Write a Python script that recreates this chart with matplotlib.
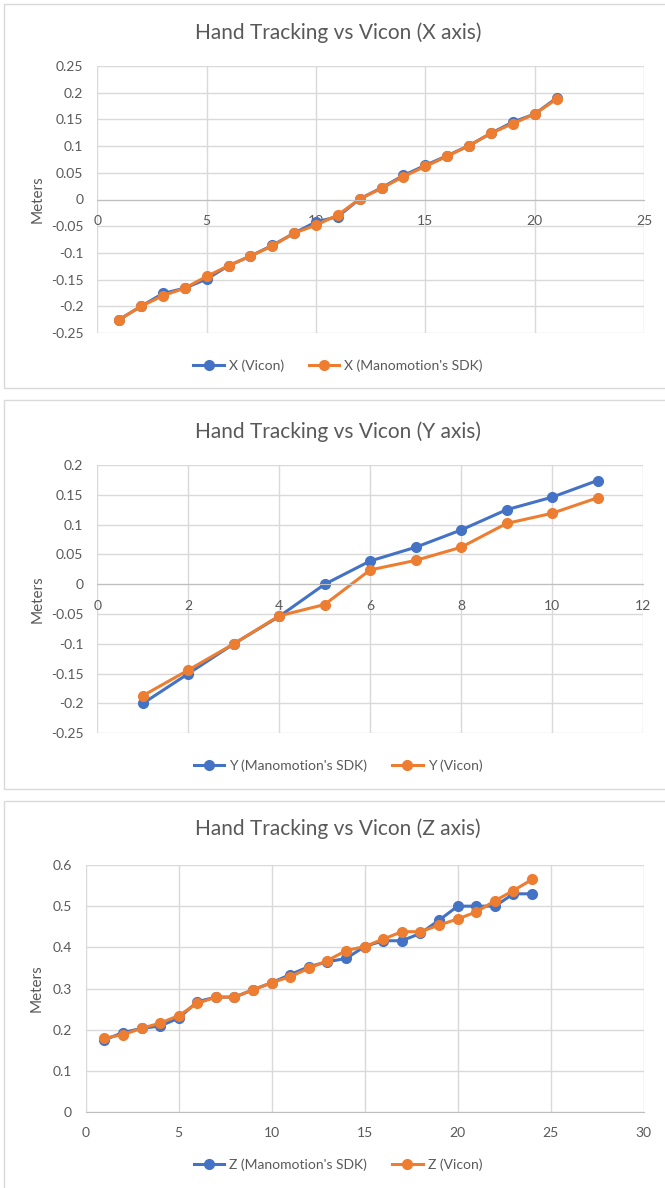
import matplotlib
matplotlib.use('Agg')
import matplotlib.pyplot as plt
from matplotlib.patches import Rectangle

plt.rcParams['font.family'] = ['Lato', 'DejaVu Sans']

# frame numbers and positions (meters)
frames_x = list(range(1, 22))
x_vicon = [-0.225, -0.200, -0.176, -0.166, -0.149, -0.124, -0.106, -0.086, -0.063, -0.042, -0.032,
           0.001, 0.022, 0.045, 0.064, 0.082, 0.101, 0.124, 0.145, 0.160, 0.190]
x_sdk = [-0.225, -0.200, -0.180, -0.166, -0.144, -0.124, -0.106, -0.087, -0.063, -0.048, -0.029,
         0.001, 0.021, 0.043, 0.062, 0.081, 0.101, 0.124, 0.142, 0.160, 0.188]

frames_y = list(range(1, 12))
y_sdk = [-0.200, -0.150, -0.100, -0.054, 0.000, 0.039, 0.062, 0.091, 0.125, 0.146, 0.174]
y_vicon = [-0.187, -0.144, -0.100, -0.053, -0.034, 0.024, 0.040, 0.062, 0.102, 0.119, 0.145]

frames_z = list(range(1, 25))
z_sdk = [0.175, 0.193, 0.203, 0.209, 0.228, 0.268, 0.279, 0.279, 0.297, 0.314, 0.334, 0.353,
         0.365, 0.373, 0.402, 0.416, 0.416, 0.434, 0.466, 0.500, 0.500, 0.500, 0.530, 0.530]
z_vicon = [0.179, 0.188, 0.203, 0.216, 0.234, 0.264, 0.279, 0.279, 0.297, 0.314, 0.329, 0.349,
           0.368, 0.392, 0.402, 0.420, 0.438, 0.438, 0.454, 0.469, 0.486, 0.513, 0.538, 0.565]

BLUE = '#4472C4'
ORANGE = '#ED7D31'
GRID = '#D9D9D9'
TEXT = '#595959'

W, H = 665, 1188
fig = plt.figure(figsize=(W / 100, H / 100), dpi=100)


def px_box(left, top, right, bottom):
    return [left / W, 1 - bottom / H, (right - left) / W, (bottom - top) / H]


def panel(top, bottom, title_y, title):
    fig.patches.append(Rectangle((4 / W, 1 - bottom / H), 668 / W, (bottom - top) / H,
                                 transform=fig.transFigure, facecolor='white',
                                 edgecolor=GRID, linewidth=1, zorder=-5))
    fig.text(338 / W, 1 - title_y / H, title, ha='center', va='center',
             fontsize=15, color=TEXT)


def style_axes(ax, xlim, xticks, ylim, yticks, yfmt, zero_axis):
    ax.set_xlim(xlim)
    ax.set_ylim(ylim)
    ax.set_xticks(xticks)
    ax.set_yticks(yticks)
    ax.set_xticklabels([str(t) for t in xticks])
    ax.set_yticklabels([yfmt(t) for t in yticks])
    ax.grid(True, color=GRID, linewidth=1)
    ax.set_axisbelow(True)
    ax.set_facecolor('none')
    for s in ['top', 'right', 'left']:
        ax.spines[s].set_visible(False)
    ax.spines['bottom'].set_color('#BFBFBF')
    if zero_axis:
        ax.spines['bottom'].set_position(('data', 0))
    ax.tick_params(axis='both', length=0, colors=TEXT, labelsize=10)
    ax.tick_params(axis='y', pad=10)
    ax.tick_params(axis='x', pad=11)


def fmt(v):
    s = ('%.2f' % v).rstrip('0').rstrip('.')
    return '0' if s in ('-0', '0') else s


def legend(y, handles, labels):
    fig.legend(handles, labels, loc='center', bbox_to_anchor=(338 / W, 1 - y / H),
               ncol=2, frameon=False, fontsize=10, labelcolor=TEXT, handlelength=2.2,
               columnspacing=1.8, handletextpad=0.35)


line_kw = dict(linewidth=2.2, marker='o', markersize=7)

# X axis chart
panel(4, 388, 33, 'Hand Tracking vs Vicon (X axis)')
ax1 = fig.add_axes(px_box(97.3, 66, 644, 333))
h1, = ax1.plot(frames_x, x_vicon, color=BLUE, **line_kw)
h2, = ax1.plot(frames_x, x_sdk, color=ORANGE, **line_kw)
style_axes(ax1, (0, 25), [0, 5, 10, 15, 20, 25], (-0.25, 0.25),
           [-0.25, -0.2, -0.15, -0.1, -0.05, 0, 0.05, 0.1, 0.15, 0.2, 0.25], fmt, True)
fig.text(38 / W, 1 - 199.5 / H, 'Meters', rotation=90, ha='center', va='center',
         fontsize=11, color=TEXT)
legend(366, [h1, h2], ['X (Vicon)', "X (Manomotion's SDK)"])

# Y axis chart
panel(400, 789, 432, 'Hand Tracking vs Vicon (Y axis)')
ax2 = fig.add_axes(px_box(97.3, 465, 643, 733.3))
h1, = ax2.plot(frames_y, y_sdk, color=BLUE, **line_kw)
h2, = ax2.plot(frames_y, y_vicon, color=ORANGE, **line_kw)
style_axes(ax2, (0, 12), [0, 2, 4, 6, 8, 10, 12], (-0.25, 0.2),
           [-0.25, -0.2, -0.15, -0.1, -0.05, 0, 0.05, 0.1, 0.15, 0.2], fmt, True)
fig.text(38 / W, 1 - 599 / H, 'Meters', rotation=90, ha='center', va='center',
         fontsize=11, color=TEXT)
legend(766, [h1, h2], ["Y (Manomotion's SDK)", 'Y (Vicon)'])

# Z axis chart
panel(801, 1240, 829, 'Hand Tracking vs Vicon (Z axis)')
ax3 = fig.add_axes(px_box(85.7, 865, 643.7, 1112))
h1, = ax3.plot(frames_z, z_sdk, color=BLUE, **line_kw)
h2, = ax3.plot(frames_z, z_vicon, color=ORANGE, **line_kw)
style_axes(ax3, (0, 30), [0, 5, 10, 15, 20, 25, 30], (0, 0.6),
           [0, 0.1, 0.2, 0.3, 0.4, 0.5, 0.6], fmt, False)
fig.text(37 / W, 1 - 988 / H, 'Meters', rotation=90, ha='center', va='center',
         fontsize=11, color=TEXT)
legend(1165, [h1, h2], ["Z (Manomotion's SDK)", 'Z (Vicon)'])

fig.savefig('out.png', dpi=100, facecolor='white')
